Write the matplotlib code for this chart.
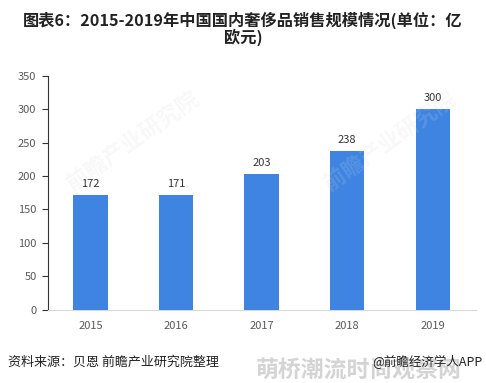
import matplotlib.pyplot as plt

plt.rcParams['font.family'] = ['Noto Sans CJK SC', 'DejaVu Sans']

# data
years = ['2015', '2016', '2017', '2018', '2019']
sales = [172, 171, 203, 238, 300]
y_ticks = [0, 50, 100, 150, 200, 250, 300, 350]

title = '图表6：2015-2019年中国国内奢侈品销售规模情况(单位：亿\n欧元)'
source = '资料来源：贝恩 前瞻产业研究院整理'
brand = '@前瞻经济学人APP'
stamp = '萌桥潮流时尚观察网'

fig = plt.figure(figsize=(4.86, 3.83), dpi=100)
ax = fig.add_axes([47.6 / 486, 1 - 309.5 / 383, 428 / 486, 233.5 / 383])

x = range(len(years))
ax.bar(x, sales, width=0.4, color='#3f84e0', zorder=3)
for xi, v in zip(x, sales):
    ax.text(xi, v + 9, str(v), ha='center', va='bottom', fontsize=8, color='#333333')

# faint watermarks
for wx, wy in [(0.2, 0.72), (0.8, 0.72)]:
    ax.text(wx, wy, '前瞻产业研究院', transform=ax.transAxes, fontsize=16,
            fontweight='bold', color='white', alpha=0.12, rotation=35,
            ha='center', va='center', zorder=4)
    ax.text(wx, wy, '前瞻产业研究院', transform=ax.transAxes, fontsize=16,
            fontweight='bold', color='#888888', alpha=0.06, rotation=35,
            ha='center', va='center', zorder=1)

ax.set_xlim(-0.5, len(years) - 0.5)
ax.set_ylim(0, 350)
ax.set_yticks(y_ticks)
ax.set_xticks(list(x))
ax.set_xticklabels(years)
ax.tick_params(axis='y', labelsize=8, labelcolor='#595959', length=4, color='#333333', pad=4)
ax.tick_params(axis='x', labelsize=8, labelcolor='#595959', length=0, pad=8)
for side in ['top', 'right']:
    ax.spines[side].set_visible(False)
ax.spines['left'].set_color('#333333')
ax.spines['bottom'].set_color('#d9d9d9')

fig.text(0.5, 1 - 29 / 383, title, ha='center', va='center', fontsize=11.7,
         fontweight='bold', color='#222222', linespacing=1.0)
fig.text(8 / 486, 1 - 362 / 383, source, ha='left', va='center', fontsize=9.4, color='#222222')
fig.text(359 / 486, 1 - 371 / 383, stamp, ha='center', va='center', fontsize=16.5,
         fontweight='bold', color='#d4d4d4')
fig.text(482 / 486, 1 - 362 / 383, brand, ha='right', va='center', fontsize=9, color='#222222')

fig.savefig('out.png', dpi=100)
